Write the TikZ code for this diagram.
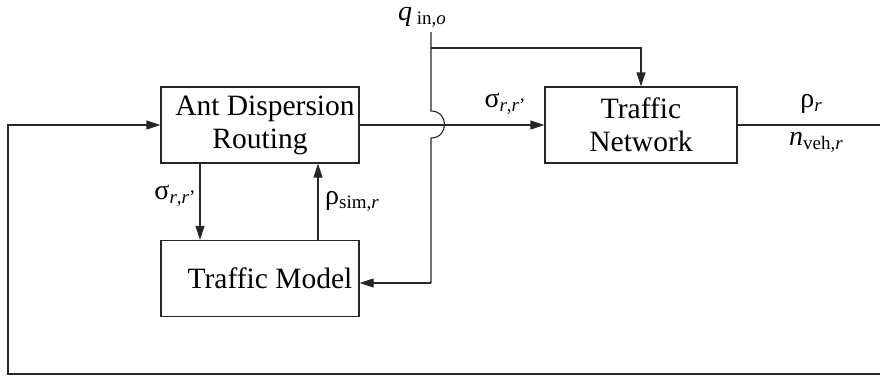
\documentclass[tikz,border=0pt]{standalone}
\usepackage{fontspec}
\setmainfont{Liberation Serif}
\usetikzlibrary{arrows.meta}
\newcommand\lsb[1]{\raisebox{-0.3ex}{\fontsize{19}{19}\selectfont #1}}
\begin{document}
\begin{tikzpicture}[x=1pt,y=-1pt,
  line width=1.1pt, draw=black!85,
  arr/.style={-{Triangle[length=14pt,width=9pt]}},
  blk/.style={draw, line width=1.1pt, minimum width=198pt, minimum height=76pt,
    align=center, inner sep=0pt, font=\fontsize{29.5}{33}\selectfont},
  lbl/.style={inner sep=0pt, font=\fontsize{28}{30}\selectfont}]
\useasboundingbox (0,0) rectangle (880,378);
\node[blk] (ADR) at (260,125) {\hspace*{10pt}Ant Dispersion\\Routing};
\node[blk] (TM) at (260,278.5) {\hspace*{20pt}Traffic Model};
\node[blk, minimum width=192pt] (TN) at (641,125) {Traffic\\Network};
% labels
\node[lbl] (q) at (422,17) {\textit{q}\,\lsb{in,\textit{o}}};
\node[lbl] (s1) at (505,104) {σ\lsb{\textit{r},\textit{r}’}};
\node[lbl] (s2) at (175,196) {σ\lsb{\textit{r},\textit{r}’}};
\node[lbl] (rs) at (352,201) {ρ\lsb{sim,\textit{r}}};
\node[lbl] (rr) at (811,104) {ρ\lsb{\textit{r}}};
\node[lbl] (nv) at (816,142) {\textit{n}\lsb{veh,\textit{r}}};
% coordinates
\coordinate (qtop) at (431,32);
\coordinate (br) at (431,48);
\coordinate (hopA) at (431,111);
\coordinate (hopB) at (431,138);
\coordinate (jn) at (431,283);
\coordinate (outR) at (880,125);
\coordinate (fbR) at (880,374);
\coordinate (fbBL) at (8,374);
\coordinate (fbTL) at (8,125);
% connectors
\draw[arr] (ADR.east) -- (TN.west);
\draw (TN.east) -- (outR);
\draw[arr] (fbR) -- (fbBL) -- (fbTL) -- (ADR.west);
\draw[arr] ([xshift=-60pt]ADR.south) -- ([xshift=-60pt]TM.north);
\draw[arr] ([xshift=58pt]TM.north) -- ([xshift=58pt]ADR.south);
\draw (qtop) -- (hopA) .. controls (449,111) and (449,138) .. (hopB) -- (jn);
\draw[arr] (jn) -- (TM.east |- jn);
\draw[arr] (br) -- (br -| TN.north) -- (TN.north);
\end{tikzpicture}
\end{document}
